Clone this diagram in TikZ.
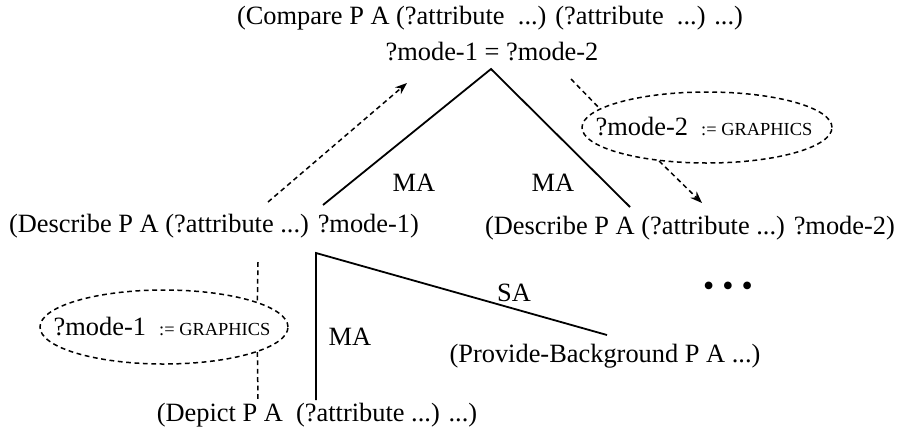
\documentclass[tikz,border=0pt]{standalone}
\usepackage{fontspec}
\setmainfont{Liberation Serif}
\usetikzlibrary{arrows.meta,shapes.geometric}

\newcommand{\gfxmode}{{\fontsize{9.2}{10}\selectfont := GRAPHICS}}

\tikzset{
  txt/.style={inner sep=0pt},
  link/.style={line width=0.9pt},
  dashlink/.style={line width=0.75pt, dash pattern=on 2.4pt off 1.8pt},
  slot/.style={draw, dashlink, ellipse, inner sep=0pt}
}

\begin{document}
\begin{tikzpicture}[x=0.5pt,y=-0.5pt,font=\fontsize{13.2}{15}\selectfont]
  \useasboundingbox (0,0) rectangle (897,434);

  % goal and its subgoals
  \node[txt] (compare) at (490,18) {(Compare P A (?attribute\ \ ...) (?attribute\ \ ...) ...)};
  \node[txt] (same) at (492,52) {?mode-1 = ?mode-2};
  \node[txt] (descl) at (214,226) {(Describe P A (?attribute ...) ?mode-1)};
  \node[txt] (descr) at (690,228) {(Describe P A (?attribute ...) ?mode-2)};
  \node[txt] (depict) at (317,415) {(Depict P A\ \ (?attribute ...) ...)};
  \node[txt] (backgr) at (605,356) {(Provide-Background P A ...)};
  \node[txt, font=\fontsize{16}{16}\selectfont] (more) at (728,289)
    {\textbullet\hspace{4pt}\textbullet\hspace{4pt}\textbullet};

  % relation labels
  \node[txt] (ma1) at (414,183) {MA};
  \node[txt] (ma2) at (553,183) {MA};
  \node[txt] (ma3) at (350,337) {MA};
  \node[txt] (sa) at (514,293) {SA};

  % bindings
  \node[slot, minimum width=125pt, minimum height=35.5pt] (slotr) at (707,127.5) {};
  \node[txt] (slotrtxt) at (704,127) {?mode-2\ \ \gfxmode};
  \node[slot, minimum width=124pt, minimum height=37pt] (slotl) at (164,327) {};
  \node[txt] (slotltxt) at (162,327) {?mode-1\ \ \gfxmode};

  \coordinate (apex) at (491,69);
  \coordinate (legl) at (323,205);
  \coordinate (legr) at (630,207);
  \coordinate (corner) at (316,253);
  \coordinate (foot) at (316,400);
  \coordinate (tip) at (607,335);

  \draw[link] (legl) -- (apex) -- (legr);
  \draw[link] (foot) -- (corner) -- (tip);

  \coordinate (up1) at (268,202);
  \coordinate (up2) at (407,83);
  \coordinate (from2) at (571,79);
  \coordinate (dn2) at (702,203);
  \draw[dashlink, -{Stealth[length=6pt,width=4.5pt]}] (up1) -- (up2);
  \draw[dashlink] (from2) -- (slotr.170);
  \draw[dashlink, -{Stealth[length=6pt,width=4.5pt]}] (slotr.215) -- (dn2);

  \coordinate (hang1) at (258,262);
  \coordinate (hang2) at (258,402);
  \draw[dashlink] (hang1) -- (slotl.15);
  \draw[dashlink] (slotl.-15) -- (hang2);
\end{tikzpicture}
\end{document}
